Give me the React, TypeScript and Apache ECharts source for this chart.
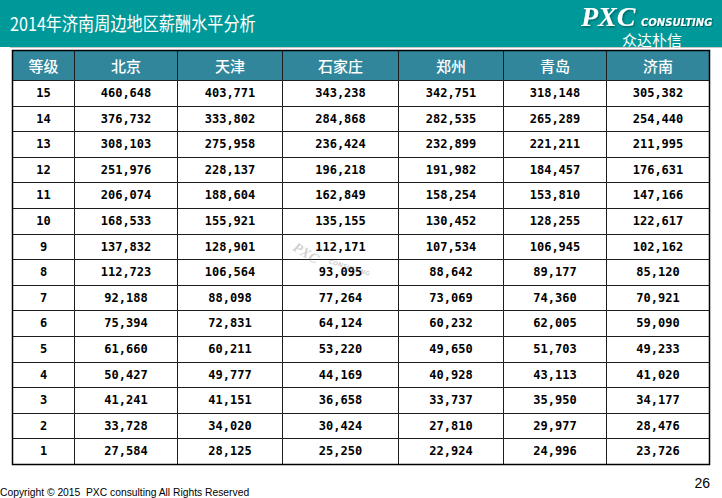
import React, { useEffect, useRef } from "react";
import * as echarts from "echarts";

// ---------- data ----------
const titleText = "2014年济南周边地区薪酬水平分析";
const gradeHeader = "等级";
const cities = ["北京", "天津", "石家庄", "郑州", "青岛", "济南"];
const grades = ["15", "14", "13", "12", "11", "10", "9", "8", "7", "6", "5", "4", "3", "2", "1"];
const beijing = [460648, 376732, 308103, 251976, 206074, 168533, 137832, 112723, 92188, 75394, 61660, 50427, 41241, 33728, 27584];
const tianjin = [403771, 333802, 275958, 228137, 188604, 155921, 128901, 106564, 88098, 72831, 60211, 49777, 41151, 34020, 28125];
const shijiazhuang = [343238, 284868, 236424, 196218, 162849, 135155, 112171, 93095, 77264, 64124, 53220, 44169, 36658, 30424, 25250];
const zhengzhou = [342751, 282535, 232899, 191982, 158254, 130452, 107534, 88642, 73069, 60232, 49650, 40928, 33737, 27810, 22924];
const qingdao = [318148, 265289, 221211, 184457, 153810, 128255, 106945, 89177, 74360, 62005, 51703, 43113, 35950, 29977, 24996];
const jinan = [305382, 254440, 211995, 176631, 147166, 122617, 102162, 85120, 70921, 59090, 49233, 41020, 34177, 28476, 23726];
const copyrightText = "Copyright © 2015  PXC consulting All Rights Reserved";
const pageNumber = "26";

// ---------- layout (not data) ----------
const colWidths = [62, 103, 105, 116, 105, 103, 103];
const HEADER_H = 30;
const ROW_H = 25.6;
const TABLE_LEFT = 12;
const TABLE_TOP = 50;

const edges: number[] = [0];
colWidths.forEach((w) => edges.push(edges[edges.length - 1] + w));
const TABLE_W = edges[edges.length - 1];
const TABLE_H = HEADER_H + ROW_H * grades.length;

const fmt = (v: number) => v.toLocaleString("en-US");

type Cell = { col: number; row: number; text: string };
const valueColumns = [beijing, tianjin, shijiazhuang, zhengzhou, qingdao, jinan];
const cells: Cell[] = [];
[gradeHeader, ...cities].forEach((t, c) => cells.push({ col: c, row: 0, text: t }));
grades.forEach((g, r) => {
  cells.push({ col: 0, row: r + 1, text: g });
  valueColumns.forEach((arr, c) => cells.push({ col: c + 1, row: r + 1, text: fmt(arr[r]) }));
});

export default function App() {
  const ref = useRef<HTMLDivElement>(null);
  useEffect(() => {
    if (!ref.current) return;
    const chart = echarts.init(ref.current, null, { renderer: "svg" });
    const px = (v: number) => Math.round(v) + 0.5;
    chart.setOption({
      animation: false,
      backgroundColor: "#ffffff",
      grid: { left: TABLE_LEFT, top: TABLE_TOP, width: TABLE_W, height: TABLE_H, containLabel: false },
      xAxis: { type: "value", min: 0, max: TABLE_W, show: false },
      yAxis: { type: "value", min: 0, max: TABLE_H, inverse: true, show: false },
      series: [
        {
          type: "custom",
          coordinateSystem: "cartesian2d",
          clip: false,
          encode: { x: 0, y: 1 },
          data: cells.map((c) => [c.col, c.row]),
          renderItem: (params: any, api: any) => {
            const cell = cells[params.dataIndex];
            const isHead = cell.row === 0;
            const x0 = edges[cell.col];
            const x1 = edges[cell.col + 1];
            const y0 = isHead ? 0 : HEADER_H + (cell.row - 1) * ROW_H;
            const y1 = isHead ? HEADER_H : y0 + ROW_H;
            const p0 = api.coord([x0, y0]);
            const p1 = api.coord([x1, y1]);
            const l = px(p0[0]);
            const t = px(p0[1]);
            const r = px(p1[0]);
            const b = px(p1[1]);
            return {
              type: "group",
              children: [
                {
                  type: "rect",
                  shape: { x: l, y: t, width: r - l, height: b - t },
                  style: { fill: isHead ? "#31869b" : "#ffffff", stroke: "#1c1c1c", lineWidth: 1 },
                },
                {
                  type: "text",
                  style: {
                    text: cell.text,
                    x: (l + r) / 2,
                    y: (t + b) / 2 + (isHead ? 0 : -0.5),
                    align: "center",
                    verticalAlign: "middle",
                    fill: isHead ? "#ffffff" : "#000000",
                    font: isHead
                      ? '500 15px "Noto Sans CJK SC"'
                      : 'bold 12px "DejaVu Sans Mono"',
                  },
                },
              ],
            };
          },
        },
      ],
      graphic: [
        { type: "rect", shape: { x: 0, y: 0, width: 722, height: 47 }, style: { fill: "#009999" }, z: 1 },
        { type: "line", shape: { x1: 10, y1: 47.5, x2: 722, y2: 47.5 }, style: { stroke: "#c8c8c8", lineWidth: 1 }, z: 1 },
        {
          type: "text",
          x: 10,
          y: 23,
          scaleX: 0.85,
          style: { text: titleText, font: '19px "Noto Sans CJK SC"', fill: "#ffffff", verticalAlign: "middle" },
          z: 2,
        },
        {
          type: "text",
          x: 581,
          y: 16,
          style: {
            text: "PXC",
            font: 'italic bold 28px "Liberation Serif"',
            fill: "#ffffff",
            verticalAlign: "middle",
            textShadowColor: "rgba(0,0,0,0.45)",
            textShadowBlur: 2,
            textShadowOffsetX: 1,
            textShadowOffsetY: 1,
          },
          z: 2,
        },
        {
          type: "text",
          x: 641,
          y: 22,
          style: {
            text: "CONSULTING",
            font: 'italic bold 10px "DejaVu Sans"',
            fill: "#ffffff",
            verticalAlign: "middle",
            textShadowColor: "rgba(0,0,0,0.4)",
            textShadowBlur: 1,
            textShadowOffsetX: 1,
            textShadowOffsetY: 1,
          },
          z: 2,
        },
        {
          type: "text",
          x: 652,
          y: 39,
          style: { text: "众达朴信", font: '15px "Noto Sans CJK SC"', fill: "#ffffff", align: "center", verticalAlign: "middle" },
          z: 2,
        },
        {
          type: "text",
          x: 298,
          y: 240,
          rotation: -0.55,
          style: { text: "PXC", font: 'italic bold 14px "Liberation Serif"', fill: "rgba(120,120,120,0.35)" },
          z: 50,
        },
        {
          type: "text",
          x: 330,
          y: 258,
          rotation: -0.3,
          style: { text: "CONSULTING", font: 'italic bold 6px "DejaVu Sans"', fill: "rgba(120,120,120,0.35)" },
          z: 50,
        },
        {
          type: "rect",
          shape: { x: TABLE_LEFT + 0.5, y: TABLE_TOP + 0.5, width: TABLE_W, height: TABLE_H },
          style: { fill: "none", stroke: "#000000", lineWidth: 1.5 },
          z: 60,
        },
        {
          type: "text",
          x: 0,
          y: 492,
          style: { text: copyrightText, font: '10.3px "Liberation Sans"', fill: "#000000", verticalAlign: "middle" },
          z: 2,
        },
        {
          type: "text",
          x: 710,
          y: 483,
          style: { text: pageNumber, font: '14px "Liberation Sans"', fill: "#000000", align: "right", verticalAlign: "middle" },
          z: 2,
        },
      ],
    });
    return () => chart.dispose();
  }, []);
  return (
    <div
      ref={ref}
      style={{ position: "fixed", left: 0, top: 0, width: 722, height: 498 }}
    />
  );
}
